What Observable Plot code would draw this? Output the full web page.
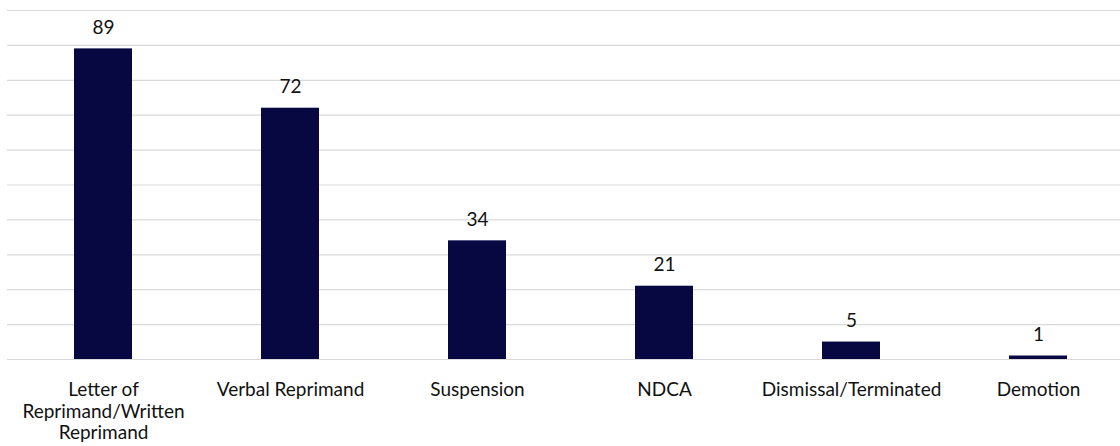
<!DOCTYPE html>
<html>
<head>
<meta charset="utf-8">
<script src="https://cdn.jsdelivr.net/npm/d3@7"></script>
<script src="https://cdn.jsdelivr.net/npm/@observablehq/plot@0.6"></script>
<style>
  html, body { margin: 0; padding: 0; background: #fff; }
  #chart svg { display: block; }
</style>
</head>
<body>
<div id="chart"></div>
<script>
// Disciplinary actions, count per action type
const categories = [
  "Letter of Reprimand/Written Reprimand",
  "Verbal Reprimand",
  "Suspension",
  "NDCA",
  "Dismissal/Terminated",
  "Demotion"
];
const counts = [89, 72, 34, 21, 5, 1];
// Axis labels as they wrap under each bar
const tickLabels = [
  "Letter of\nReprimand/Written\nReprimand",
  "Verbal Reprimand",
  "Suspension",
  "NDCA",
  "Dismissal/Terminated",
  "Demotion"
];
const gridValues = [0, 10, 20, 30, 40, 50, 60, 70, 80, 90, 100];

const data = categories.map((c, i) => ({category: c, count: counts[i], label: tickLabels[i]}));

const font = "Lato, 'Open Sans', sans-serif";

const chart = Plot.plot({
  width: 1120,
  height: 446,
  marginTop: 10,
  marginBottom: 87,
  marginLeft: 7,
  marginRight: 0,
  style: {fontFamily: font, fontSize: "19px", color: "#000", background: "#fff"},
  x: {domain: categories, range: [7, 1133], paddingInner: 0.69, paddingOuter: 0.345, axis: null},
  y: {domain: [0, 100], axis: null},
  marks: [
    Plot.ruleY(gridValues, {stroke: "#d9d9d9", strokeWidth: 1.2}),
    Plot.barY(data, {x: "category", y: "count", fill: "#070742"}),
    Plot.text(data, {
      x: "category", y: "count", text: d => String(d.count),
      dy: -21, fontSize: 19, fill: "#111"
    }),
    Plot.text(data, {
      x: "category", text: "label", frameAnchor: "bottom", lineAnchor: "top",
      dy: 21, lineHeight: 1.14, fontSize: 19, fill: "#111"
    })
  ]
});

document.getElementById("chart").appendChild(chart);
</script>
</body>
</html>
